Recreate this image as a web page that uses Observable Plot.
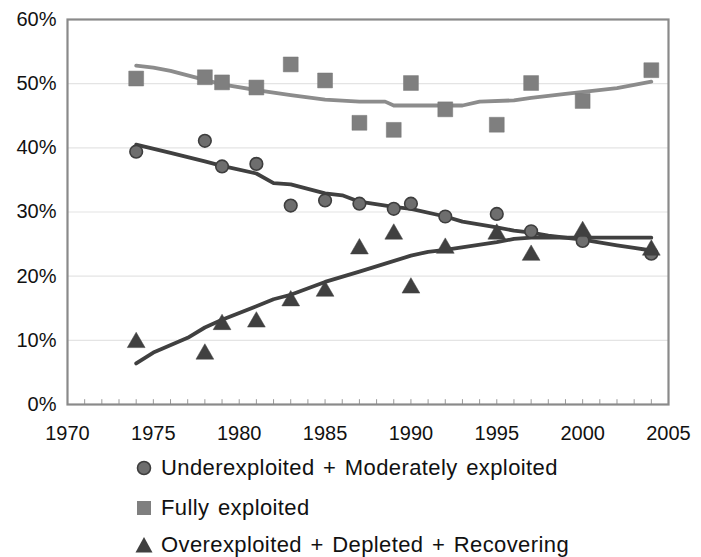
<!DOCTYPE html>
<html>
<head>
<meta charset="utf-8">
<script src="https://cdn.jsdelivr.net/npm/d3@7"></script>
<script src="https://cdn.jsdelivr.net/npm/@observablehq/plot@0.6"></script>
<style>
  html, body { margin: 0; padding: 0; background: #fff; }
  #wrap { width: 701px; font-family: "Liberation Sans", Arial, sans-serif; }
  #legend { position: relative; width: 701px; height: 112px; }
  .row { position: absolute; left: 133px; height: 30px; display: flex; align-items: center; font-size: 22px; letter-spacing: 0.4px; word-spacing: 2px; color: #111; white-space: nowrap; }
  .row svg { width: 22px; height: 22px; margin-right: 6px; }
</style>
</head>
<body>
<div id="wrap">
  <div id="chart"></div>
  <div id="legend"></div>
</div>
<script>
// Survey years and observed shares (%)
const years = [1974, 1978, 1979, 1981, 1983, 1985, 1987, 1989, 1990, 1992, 1995, 1997, 2000, 2004];
const underModerate = [39.4, 41.1, 37.1, 37.5, 31.0, 31.8, 31.3, 30.5, 31.3, 29.3, 29.7, 27.0, 25.5, 23.5];
const fullyExploited = [50.8, 51.0, 50.2, 49.4, 53.0, 50.5, 43.9, 42.8, 50.1, 46.0, 43.6, 50.1, 47.3, 52.1];
const overDepleted = [9.9, 8.1, 12.7, 13.1, 16.4, 17.9, 24.5, 26.8, 18.4, 24.6, 26.8, 23.5, 27.2, 24.3];

// Trend lines
const underTrendYears = [1974, 1976, 1978, 1979, 1981, 1982, 1983, 1985, 1986, 1987, 1989, 1990, 1992, 1993, 1995, 1996, 1997, 1998, 2000, 2002, 2003, 2004];
const underTrend = [40.5, 39.2, 37.9, 37.2, 36.0, 34.5, 34.3, 32.9, 32.6, 31.6, 30.8, 30.5, 29.3, 28.5, 27.6, 27.1, 26.8, 26.3, 25.7, 24.8, 24.4, 24.0];
const fullyTrendYears = [1974, 1975, 1976, 1978, 1979, 1981, 1983, 1985, 1987, 1988.5, 1989, 1993, 1994, 1996, 1997, 1999, 2002, 2004];
const fullyTrend = [52.8, 52.5, 52.0, 50.6, 49.9, 49.0, 48.2, 47.5, 47.2, 47.2, 46.6, 46.6, 47.2, 47.4, 47.8, 48.4, 49.3, 50.3];
const overTrendYears = [1974, 1975, 1977, 1978, 1979, 1981, 1982, 1983, 1985, 1987, 1990, 1991, 1992, 1995, 1996, 1997, 2004];
const overTrend = [6.4, 8.1, 10.4, 12.0, 13.2, 15.3, 16.4, 17.1, 19.1, 20.7, 23.2, 23.8, 24.1, 25.3, 25.8, 26.0, 26.0];

// Axis ticks
const xTicks = [1970, 1975, 1980, 1985, 1990, 1995, 2000, 2005];
const xMinorTicks = d3.range(1970, 2006);
const yTicks = [0, 10, 20, 30, 40, 50, 60];

// Legend labels
const seriesNames = ["Underexploited + Moderately exploited", "Fully exploited", "Overexploited + Depleted + Recovering"];

const pts = (xs, ys) => xs.map((x, i) => ({x, y: ys[i]}));

const font = "Liberation Sans, Arial, sans-serif";
const chart = Plot.plot({
  width: 701,
  height: 445,
  marginLeft: 67,
  marginRight: 33,
  marginTop: 19,
  marginBottom: 41,
  style: {fontFamily: font, fontSize: "20px", color: "#111", background: "#fff"},
  x: {domain: [1970, 2005]},
  y: {domain: [0, 60]},
  marks: [
    Plot.gridY(yTicks, {stroke: "#e4e4e4", strokeOpacity: 1, strokeWidth: 1.2}),
    Plot.ruleX(xMinorTicks, {x: d => d, y1: 0, y2: 0.75, stroke: "#999", strokeWidth: 1}),
    Plot.frame({stroke: "#8a8a8a", strokeWidth: 2.2}),
    Plot.axisY(yTicks, {tickSize: 0, tickPadding: 11, tickFormat: d => d + "%", fontSize: 20, label: null}),
    Plot.axisX(xTicks, {tickSize: 0, tickPadding: 21, tickFormat: d => String(d), fontSize: 20, label: null}),
    Plot.line(pts(fullyTrendYears, fullyTrend), {x: "x", y: "y", stroke: "#8c8c8c", strokeWidth: 3.8}),
    Plot.line(pts(underTrendYears, underTrend), {x: "x", y: "y", stroke: "#404040", strokeWidth: 3.8}),
    Plot.line(pts(overTrendYears, overTrend), {x: "x", y: "y", stroke: "#404040", strokeWidth: 3.8}),
    Plot.dot(pts(years, fullyExploited), {x: "x", y: "y", symbol: "square", r: 8.4, fill: "#7f7f7f", stroke: "#777", strokeWidth: 0.5}),
    Plot.dot(pts(years, underModerate), {x: "x", y: "y", symbol: "circle", r: 6.3, fill: "#6e6e6e", stroke: "#3e3e3e", strokeWidth: 1.6}),
    Plot.dot(pts(years, overDepleted), {x: "x", y: "y", symbol: "triangle", r: 6.6, fill: "#404040", stroke: "#404040", strokeWidth: 0.5, dy: 1.5})
  ]
});
document.getElementById("chart").appendChild(chart);

// Legend
const icons = [
  '<svg viewBox="0 0 22 22"><circle cx="11" cy="11" r="6.5" fill="#6e6e6e" stroke="#3e3e3e" stroke-width="1.6"/></svg>',
  '<svg viewBox="0 0 22 22"><rect x="4" y="4" width="14" height="14" fill="#7f7f7f"/></svg>',
  '<svg viewBox="0 0 22 22"><path d="M11,3 L19.5,18.5 L2.5,18.5 Z" fill="#404040"/></svg>'
];
const rowCenters = [23, 63, 100];
const legend = document.getElementById("legend");
seriesNames.forEach((name, i) => {
  const row = document.createElement("div");
  row.className = "row";
  row.style.top = (rowCenters[i] - 15) + "px";
  row.innerHTML = icons[i] + "<span>" + name + "</span>";
  legend.appendChild(row);
});
</script>
</body>
</html>
